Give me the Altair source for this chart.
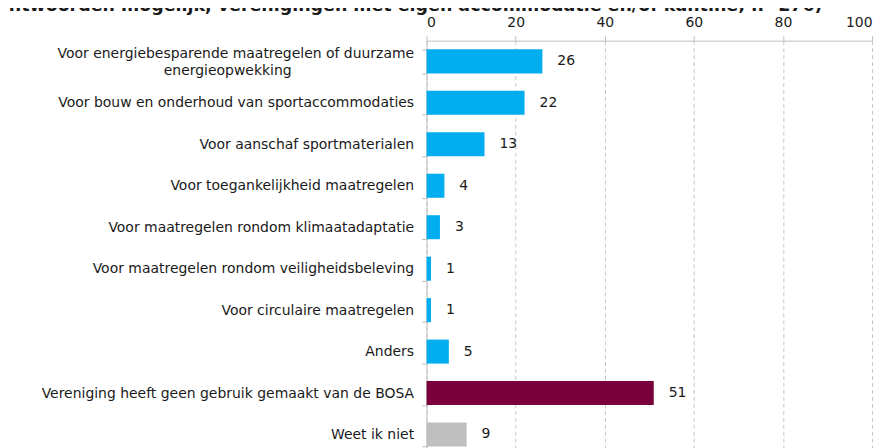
import altair as alt
import pandas as pd

PAD = "\u2800"
categories = [
    "Voor energiebesparende maatregelen of duurzame|energieopwekking" + PAD * 12,
    "Voor bouw en onderhoud van sportaccommodaties",
    "Voor aanschaf sportmaterialen",
    "Voor toegankelijkheid maatregelen",
    "Voor maatregelen rondom klimaatadaptatie",
    "Voor maatregelen rondom veiligheidsbeleving",
    "Voor circulaire maatregelen",
    "Anders",
    "Vereniging heeft geen gebruik gemaakt van de BOSA",
    "Weet ik niet",
]
values = [26, 22, 13, 4, 3, 1, 1, 5, 51, 9]
groups = ["ja"] * 8 + ["nee", "weet niet"]
group_colors = ["#00AEEF", "#7A003C", "#BFBFBF"]
x_ticks = [0, 20, 40, 60, 80, 100]
title_text = "antwoorden mogelijk, verenigingen met eigen accommodatie en/of kantine; n=276)"

df = pd.DataFrame({"cat": categories, "val": values, "grp": groups})

FONT = "DejaVu Sans"

y_enc = alt.Y(
    "cat:N",
    sort=categories,
    scale=alt.Scale(paddingInner=0.42, paddingOuter=0.21),
    axis=alt.Axis(
        title=None,
        orient="left",
        domainColor="#bfbfbf",
        tickColor="#bfbfbf",
        tickSize=5,
        tickBand="extent",
        labelPadding=8,
        labelFontSize=14,
        labelFont=FONT,
        labelColor="#1a1a1a",
        labelLimit=500,
        labelExpr="split(datum.label, '|')",
        labelLineHeight=17,
        labelOffset={
            "condition": {"test": "datum.index == 0", "value": -8},
            "value": 0,
        },
        grid=False,
    ),
)

x_enc = alt.X(
    "val:Q",
    scale=alt.Scale(domain=[0, 100], nice=False),
    axis=alt.Axis(
        title=None,
        orient="top",
        values=x_ticks,
        grid=True,
        gridDash=[4, 3],
        gridColor="#c8c8c8",
        domainColor="#bfbfbf",
        tickColor="#bfbfbf",
        tickSize=5,
        labelPadding=6,
        labelFontSize=14,
        labelFont=FONT,
        labelColor="#1a1a1a",
    ),
)

bars = alt.Chart(df).mark_bar().encode(
    y=y_enc,
    x=x_enc,
    color=alt.Color(
        "grp:N",
        scale=alt.Scale(domain=["ja", "nee", "weet niet"], range=group_colors),
        legend=None,
    ),
)

labels = alt.Chart(df).mark_text(
    align="left", baseline="middle", dx=15, fontSize=14, font=FONT, color="#1a1a1a"
).encode(y=alt.Y("cat:N", sort=categories), x="val:Q", text="val:Q")

chart = (
    alt.layer(bars, labels)
    .properties(
        width=447,
        height=416,
        autosize=alt.AutoSizeParams(type="none"),
        padding={"left": 420, "top": 32, "right": 12, "bottom": 0},
        title=alt.TitleParams(
            title_text,
            anchor="start",
            frame="group",
            dx=-431,
            dy=3,
            font=FONT,
            fontSize=17.5,
            fontWeight="bold",
            color="#1a1a1a",
        ),
    )
    .configure_view(stroke=None)
)

chart.save("out.html", embed_options={"renderer": "svg", "actions": False})
